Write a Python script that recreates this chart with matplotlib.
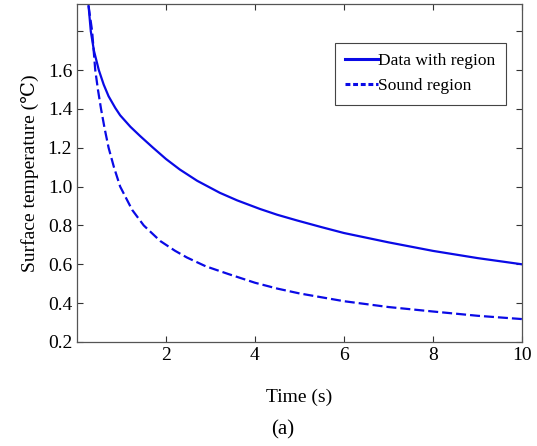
import numpy as np
from matplotlib import pyplot as plt

# values
time_solid = [0.26, 0.31, 0.38, 0.49, 0.6, 0.71, 0.86, 0.97, 1.2, 1.42, 1.7,
              2.0, 2.31, 2.7, 3.21, 3.6, 4.11, 4.5, 4.94, 5.5, 6.0, 7.0, 8.0,
              9.0, 10.0]
temp_solid = [1.93, 1.80, 1.70, 1.60, 1.525, 1.465, 1.405, 1.367, 1.308, 1.26,
              1.202, 1.142, 1.088, 1.03, 0.968, 0.929, 0.885, 0.855, 0.826,
              0.791, 0.761, 0.713, 0.669, 0.632, 0.60]
time_dash = [0.26, 0.34, 0.41, 0.47, 0.54, 0.62, 0.71, 0.83, 0.97, 1.24, 1.5,
             1.87, 2.2, 2.47, 2.89, 3.4, 4.0, 4.5, 5.0, 6.0, 7.0, 8.0, 9.0, 10.0]
temp_dash = [1.93, 1.80, 1.60, 1.50, 1.40, 1.30, 1.20, 1.10, 1.00, 0.88, 0.80,
             0.72, 0.67, 0.635, 0.59, 0.55, 0.505, 0.475, 0.45, 0.41, 0.38,
             0.357, 0.335, 0.318]
series_names = ['Data with region', 'Sound region']
xtick_vals = [2, 4, 6, 8, 10]
ytick_vals = [0.2, 0.4, 0.6, 0.8, 1.0, 1.2, 1.4, 1.6, 1.8]
ytick_labels = ['0.2', '0.4', '0.6', '0.8', '1.0', '1.2', '1.4', '1.6', '']

plt.rcParams['font.family'] = ['Liberation Serif', 'DejaVu Serif']

fig = plt.figure(figsize=(5.37, 4.46), dpi=100)
ax = fig.add_axes([77 / 537, 1 - 342 / 446, (522 - 77) / 537, (342 - 4) / 446])

blue = '#0a0ae6'
ax.plot(time_solid, temp_solid, color=blue, lw=1.6, label=series_names[0])
ax.plot(time_dash, temp_dash, color=blue, lw=1.6, ls=(0, (4.5, 1.8)),
        label=series_names[1])

ax.set_xlim(0, 10)
ax.set_ylim(0.2, 1.94)
ax.set_xticks(xtick_vals)
ax.set_xticklabels([str(v) for v in xtick_vals])
ax.set_yticks(ytick_vals)
ax.set_yticklabels(ytick_labels)
ax.tick_params(direction='in', length=4, width=0.8, labelsize=14,
               top=True, right=True, colors='#333333', labelcolor='black')
for s in ax.spines.values():
    s.set_color('#555555')
    s.set_linewidth(0.9)

ax.set_xlabel('Time (s)', fontsize=14, labelpad=18)
ax.set_ylabel('Surface temperature (\u2103)', fontsize=14, labelpad=6)

leg = ax.legend(loc='upper right', bbox_to_anchor=(0.964, 0.885), fontsize=12.5,
                handlelength=1.9, handletextpad=0.0, borderpad=0.6,
                labelspacing=0.5, fancybox=False, framealpha=1,
                edgecolor='#444444', borderaxespad=0)
leg.get_frame().set_linewidth(0.8)
for h in leg.legend_handles:
    h.set_linewidth(2.2)
leg.legend_handles[1].set_linestyle((0, (1.6, 0.9)))

fig.text(0.527, 1 - 430 / 446, '(a)', fontsize=15, ha='center', va='center')

fig.savefig('out.png', dpi=100)
